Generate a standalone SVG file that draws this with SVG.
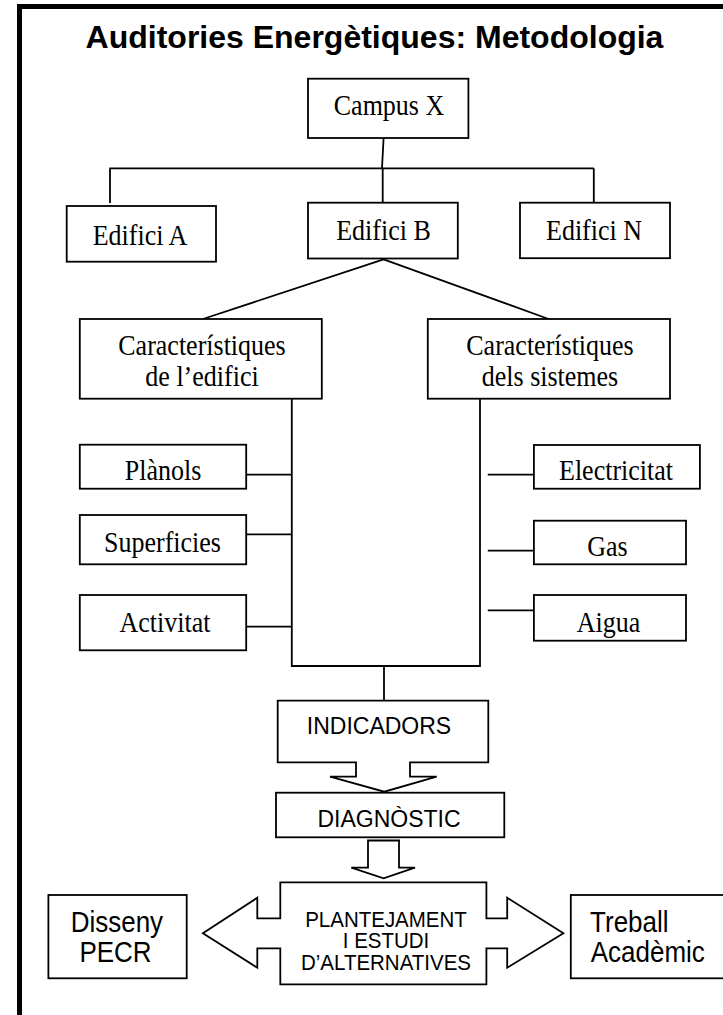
<svg xmlns="http://www.w3.org/2000/svg" width="723" height="1015" viewBox="0 0 723 1015">
<style>
.box{fill:#fff;stroke:#000;stroke-width:1.8}
.ln{fill:none;stroke:#000;stroke-width:1.8}
.tm{font-family:"Liberation Serif","Times New Roman",serif;font-size:26px;fill:#000;text-anchor:middle}
.ar{font-family:"Liberation Sans",Arial,sans-serif;fill:#000;text-anchor:middle}
</style>
<rect width="723" height="1015" fill="#fff"/>
<g id="frame">
<path d="M19.5,1015 V6.5 H723" fill="none" stroke="#000" stroke-width="5"/>
</g>
<text id="title" x="374.5" y="48" class="ar" style="font-size:32px;font-weight:bold">Auditories Energètiques: Metodologia</text>
<g id="connectors">
<path class="ln" d="M383.6,138 L382,168.3 M109.3,168.3 H593.8 M110,168.3 V203 M382.7,168.3 V202.7 M593.8,168.3 V202.7"/>
<path class="ln" d="M383.6,259.3 L202.9,319 M383.6,259.3 L548.6,319"/>
<path class="ln" d="M291.8,398.7 V666 H480 V398.7 M384,666 V700.7"/>
<path class="ln" d="M246.2,474.7 H291.8 M246.2,534.3 H291.8 M246.2,626.7 H291.8"/>
<path class="ln" d="M487.8,474.7 H533.9 M487.8,550.7 H533.9 M487.8,610.3 H533.9"/>
</g>
<g id="campus"><rect class="box" x="308" y="78.7" width="160.4" height="59.3"/><text class="tm" transform="matrix(1 0 0 1.12 389 115)">Campus X</text></g>
<g id="edificiA"><rect class="box" x="66.7" y="206" width="149.3" height="55.7"/><text class="tm" transform="matrix(1 0 0 1.12 140 245)">Edifici A</text></g>
<g id="edificiB"><rect class="box" x="308" y="202.7" width="149.8" height="55.8"/><text class="tm" transform="matrix(1 0 0 1.12 383.5 240)">Edifici B</text></g>
<g id="edificiN"><rect class="box" x="520" y="202.7" width="150" height="55.5"/><text class="tm" transform="matrix(1 0 0 1.12 594 240)">Edifici N</text></g>
<g id="carEdifici"><rect class="box" x="79.8" y="319" width="242" height="79.7"/><text class="tm" transform="matrix(1 0 0 1.12 202 355)">Característiques</text><text class="tm" transform="matrix(1 0 0 1.12 202 386)">de l’edifici</text></g>
<g id="carSistemes"><rect class="box" x="427.8" y="319" width="242.2" height="79.7"/><text class="tm" transform="matrix(1 0 0 1.12 550 355)">Característiques</text><text class="tm" transform="matrix(1 0 0 1.12 550 386)">dels sistemes</text></g>
<g id="planols"><rect class="box" x="79.8" y="444.7" width="166.4" height="44"/><text class="tm" transform="matrix(1 0 0 1.12 163 480)">Plànols</text></g>
<g id="superficies"><rect class="box" x="79.8" y="515" width="166.4" height="49.3"/><text class="tm" transform="matrix(1 0 0 1.12 162.5 551.7)">Superficies</text></g>
<g id="activitat"><rect class="box" x="79.8" y="595" width="166.4" height="55.3"/><text class="tm" transform="matrix(1 0 0 1.12 165 632.3)">Activitat</text></g>
<g id="electricitat"><rect class="box" x="533.9" y="445" width="166" height="43.7"/><text class="tm" transform="matrix(1 0 0 1.12 616 480)">Electricitat</text></g>
<g id="gas"><rect class="box" x="533.9" y="520.7" width="152.1" height="43.6"/><text class="tm" transform="matrix(1 0 0 1.12 607.5 555.7)">Gas</text></g>
<g id="aigua"><rect class="box" x="533.9" y="595" width="152.1" height="45.7"/><text class="tm" transform="matrix(1 0 0 1.12 608.6 632.3)">Aigua</text></g>
<g id="indicadors"><polygon class="box" points="277.7,700.7 488.3,700.7 488.3,762.3 410,762.3 410,776.7 436.7,776.7 384.3,791.7 330,776.7 356,776.7 356,762.3 277.7,762.3"/><text class="ar" x="379" y="734" style="font-size:23px">INDICADORS</text></g>
<g id="diagnostic"><rect class="box" x="276" y="792.7" width="228.3" height="44.6"/><text class="ar" x="389" y="826.7" style="font-size:23px">DIAGNÒSTIC</text>
<polygon class="box" points="368,840.5 399,840.5 399,867.7 415,867.7 383.6,878.3 351.3,867.7 368,867.7"/></g>
<g id="plantejament"><polygon class="box" points="280.3,882.3 486.4,882.3 486.4,918.3 507.2,918.3 507.2,897.7 563.4,933.3 507.2,967.7 507.2,948.3 486.4,948.3 486.4,984.3 280.3,984.3 280.3,948.3 257.3,948.3 257.3,967.7 202.9,933.3 257.3,897.7 257.3,918.3 280.3,918.3"/>
<text class="ar" transform="matrix(1 0 0 1.1 386 926.7)" style="font-size:20.5px">PLANTEJAMENT</text><text class="ar" transform="matrix(1 0 0 1.1 386 948.3)" style="font-size:20.5px">I ESTUDI</text><text class="ar" transform="matrix(1 0 0 1.1 386 970)" style="font-size:20.5px">D’ALTERNATIVES</text></g>
<g id="disseny"><rect class="box" x="48.4" y="895" width="138.3" height="83.3"/><text class="ar" transform="matrix(1 0 0 1.15 116.9 931.7)" style="font-size:26px">Disseny</text><text class="ar" transform="matrix(1 0 0 1.15 115.5 961.7)" style="font-size:26px">PECR</text></g>
<g id="treball"><rect class="box" x="570.8" y="895" width="160" height="83.3"/><text class="ar" transform="matrix(1 0 0 1.15 629.3 931.7)" style="font-size:26px">Treball</text><text class="ar" transform="matrix(1 0 0 1.15 647.8 961.7)" style="font-size:26px">Acadèmic</text></g>
</svg>
